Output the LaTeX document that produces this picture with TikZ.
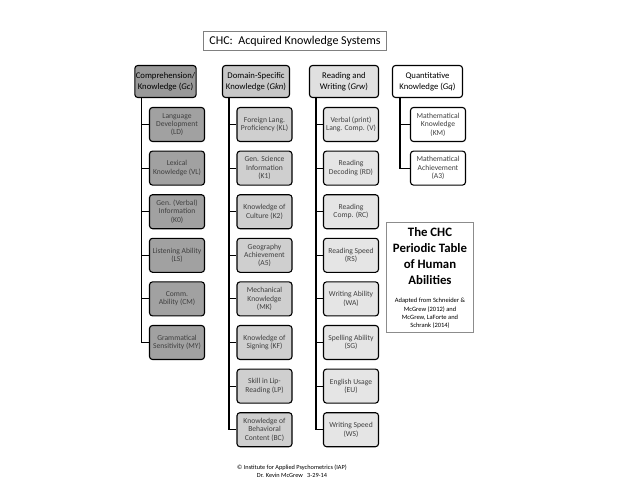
\documentclass[tikz,border=0pt]{standalone}
\usepackage{fontspec}
\setmainfont{Carlito}
\usetikzlibrary{positioning}
\definecolor{gchead}{gray}{0.60}
\definecolor{gcsub}{gray}{0.63}
\definecolor{gknhead}{gray}{0.78}
\definecolor{gknsub}{gray}{0.81}
\definecolor{grwhead}{gray}{0.88}
\definecolor{grwsub}{gray}{0.90}
\newcommand\abil[1]{(\textit{#1})}
\tikzset{head/.style={draw,rounded corners=3pt,line width=1.1pt,align=center,
		minimum height=32pt,inner sep=1pt,font=\fontsize{8.7}{11.5}\selectfont},
	sub/.style={draw,rounded corners=3pt,line width=1.1pt,align=center,
		minimum width=55pt,minimum height=34pt,inner sep=1pt,text=black!75,
		font=\fontsize{7.6}{8.4}\selectfont},
	link/.style={line width=1.1pt},
	note/.style={draw=black!45,line width=0.8pt,minimum width=87pt,minimum height=110pt}}

\begin{document}
\begin{tikzpicture}[x=1pt,y=-1pt,node distance=8.5pt]
\useasboundingbox (0,0) rectangle (638,479);
\node [draw=black!50,line width=0.6pt,minimum width=183pt,minimum height=19pt,
  font=\fontsize{12}{14}\selectfont] (title) at (295,41) {CHC:\ \ Acquired Knowledge Systems};
% broad abilities
\node [head,fill=gchead,minimum width=60pt] (gc) at (165.5,81.5) {Comprehension/\\Knowledge \abil{Gc}};
\node [head,fill=gknhead,minimum width=67pt] (gkn) at (256,81.5) {Domain-Specific\\Knowledge \abil{Gkn}};
\node [head,fill=grwhead,minimum width=69pt] (grw) at (344,81.5) {Reading and\\Writing \abil{Grw}};
\node [head,fill=white,minimum width=70pt] (gq) at (427.5,81.5) {Quantitative\\Knowledge \abil{Gq}};
% Gc
\node [sub,fill=gcsub] (ld) at (177,124.5) {Language\\Development\\(LD)};
\node [sub,fill=gcsub,below=of ld] (vl) {Lexical\\Knowledge (VL)};
\node [sub,fill=gcsub,below=of vl] (k0) {Gen. (Verbal)\\Information\\(K0)};
\node [sub,fill=gcsub,below=of k0] (ls) {Listening Ability\\(LS)};
\node [sub,fill=gcsub,below=of ls] (cm) {Comm.\\Ability (CM)};
\node [sub,fill=gcsub,below=of cm] (my) {Grammatical\\Sensitivity (MY)};
% Gkn
\node [sub,fill=gknsub] (kl) at (264.5,124.5) {Foreign Lang.\\Proficiency (KL)};
\node [sub,fill=gknsub,below=of kl] (k1) {Gen. Science\\Information\\(K1)};
\node [sub,fill=gknsub,below=of k1] (k2) {Knowledge of\\Culture (K2)};
\node [sub,fill=gknsub,below=of k2] (a5) {Geography\\Achievement\\(A5)};
\node [sub,fill=gknsub,below=of a5] (mk) {Mechanical\\Knowledge\\(MK)};
\node [sub,fill=gknsub,below=of mk] (kf) {Knowledge of\\Signing (KF)};
\node [sub,fill=gknsub,below=of kf] (lp) {Skill in Lip-\\Reading (LP)};
\node [sub,fill=gknsub,below=of lp] (bc) {Knowledge of\\Behavioral\\Content (BC)};
% Grw
\node [sub,fill=grwsub] (v) at (351,124.5) {Verbal (print)\\Lang. Comp. (V)};
\node [sub,fill=grwsub,below=of v] (rd) {Reading\\Decoding (RD)};
\node [sub,fill=grwsub,below=of rd] (rc) {Reading\\Comp. (RC)};
\node [sub,fill=grwsub,below=of rc] (rs) {Reading Speed\\(RS)};
\node [sub,fill=grwsub,below=of rs] (wa) {Writing Ability\\(WA)};
\node [sub,fill=grwsub,below=of wa] (sg) {Spelling Ability\\(SG)};
\node [sub,fill=grwsub,below=of sg] (eu) {English Usage\\(EU)};
\node [sub,fill=grwsub,below=of eu] (ws) {Writing Speed\\(WS)};
% Gq
\node [sub,fill=white] (km) at (438,124.5) {Mathematical\\Knowledge\\(KM)};
\node [sub,fill=white,below=of km] (a3) {Mathematical\\Achievement\\(A3)};
% links
\foreach \n in {ld,vl,k0,ls,cm,my}
  \draw [link] ([xshift=7pt]gc.south west) |- (\n.west);
\foreach \n in {kl,k1,k2,a5,mk,kf,lp,bc}
  \draw [link] ([xshift=7pt]gkn.south west) |- (\n.west);
\foreach \n in {v,rd,rc,rs,wa,sg,eu,ws}
  \draw [link] ([xshift=7pt]grw.south west) |- (\n.west);
\foreach \n in {km,a3}
  \draw [link] ([xshift=8pt]gq.south west) |- (\n.west);
% periodic table note
\node [note] (chc) at (430,277.5) {};
\node [align=center,font=\fontsize{12.8}{16}\selectfont\bfseries] (chcname)
  at ([yshift=-34pt]chc.north) {The CHC\\Periodic Table\\of Human\\Abilities};
\node [align=center,font=\fontsize{6.5}{8.3}\selectfont] (chcsrc)
  at ([yshift=-91.5pt]chc.north) {Adapted from Schneider \&\\McGrew (2012) and\\McGrew, LaForte and\\Schrank (2014)};
\node [align=center,font=\fontsize{6.3}{8}\selectfont] (credit) at (292,471)
  {\textcopyright{} Institute for Applied Psychometrics (IAP)\\Dr. Kevin McGrew\ \ \ 3-29-14};
\end{tikzpicture}
\end{document}
